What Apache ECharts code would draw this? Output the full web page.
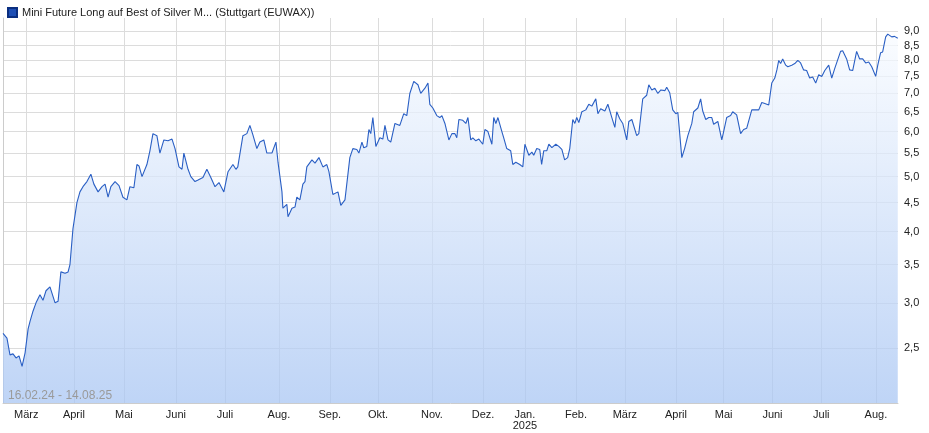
<!DOCTYPE html>
<html><head><meta charset="utf-8">
<script src="https://cdn.jsdelivr.net/npm/echarts@6/dist/echarts.min.js"></script>
<style>html,body{margin:0;padding:0;background:#fff}#c{width:929px;height:433px}</style>
</head><body><div id="c"></div>
<script>
// trading-day index since 16.02.24
const days = [0,1.7,3,4.3,5.6,6.9,8.2,9.5,10.8,11.6,12.9,14.2,15.9,17.2,18.5,20.2,22.4,23.7,24.9,26.7,28,28.8,30.1,31.8,33.1,34.4,36.1,37.8,39.1,40.9,42.6,43.9,45.2,46.4,48.2,49.9,51.6,53.3,54.6,56.3,57.6,58.5,59.8,61.9,63.2,64.5,66.2,67.5,69.2,71,72.7,74,75.7,77,77.8,79.6,80.8,82.6,83.9,86,87.7,89.4,91.2,92.9,95,96.8,98.9,100.2,101,103.2,104.9,106.2,107.5,109.2,110.5,112.2,113.5,115.7,117.4,118.3,120,120.4,122.1,122.6,124.3,125.6,126.4,127.7,129,129.9,130.7,132.9,134.2,135.9,137.6,139.3,140.2,141.9,144.1,145.3,147.1,149.2,150.5,152.2,153.1,154.4,155.2,156.5,157.4,158.2,159.1,160.4,162.1,163.4,164.3,165.6,166.8,168.6,169.4,170.7,172.4,173.7,175,176.7,178.5,179.7,181.5,182.8,183.6,184.9,186.6,187.9,188.8,190.1,190.9,191.8,193.1,194.4,195.2,196.1,197.8,199.1,200,201.2,202.1,203.4,204.7,206.4,207.3,208.6,210.3,211.1,212,212.9,214.6,215.4,216.7,218.4,219.3,220.6,222.3,223.6,224.5,226.2,227.5,228.3,229.6,230.9,231.7,232.6,233.9,234.8,236.1,236.9,237.8,239.1,240.4,241.6,242.9,243.8,245.1,246,246.8,247.7,249,250.7,252,253.3,255,255.9,257.1,258.9,260.2,261.9,263.2,264,265.3,266.6,268.3,269.2,270.5,272.6,273.5,275.2,276.9,277.8,279.1,280.4,281.7,283,284.7,285.5,286.8,288.1,289.4,290.3,292,293.2,294.6,296.3,297.1,298.9,300.1,301,302.3,303.6,304.9,305.7,307.5,309.2,310,311.3,313,313.9,315.6,317.3,318.6,319.9,322.1,323.8,325.1,326.4,327.7,329.4,330.7,332,332.9,333.7,334.5,335.4,336.7,337.6,339.3,340.6,341.9,343.1,344.4,345.7,347,348.3,349.6,350.9,352.2,353.5,355.2,356.5,357.8,358.6,360.3,361.2,362.9,364.2,365.5,367.2,368.5,369.8,371.1,372.4,373.7,375.4,376.3,377.5,378.4,379.7,380.6,382.3,383.5,384.9];
const values = [2.65,2.6,2.43,2.44,2.4,2.42,2.32,2.45,2.7,2.78,2.9,3.0,3.1,3.03,3.15,3.2,3.0,3.02,3.4,3.38,3.4,3.5,4.05,4.5,4.7,4.8,4.9,5.05,4.85,4.7,4.8,4.85,4.6,4.8,4.9,4.82,4.6,4.55,4.8,4.78,5.25,5.22,5.0,5.25,5.55,5.95,5.9,5.5,5.8,5.78,5.82,5.6,5.2,5.15,5.5,5.15,5.0,4.9,4.93,4.98,5.15,4.98,4.8,4.88,4.7,5.1,5.25,5.15,5.2,5.9,5.95,6.15,5.92,5.6,5.75,5.8,5.5,5.5,5.75,5.3,4.7,4.4,4.47,4.25,4.4,4.42,4.6,4.55,4.85,4.9,5.2,5.35,5.28,5.4,5.2,5.25,5.1,4.65,4.7,4.45,4.55,5.4,5.6,5.58,5.5,5.75,5.62,5.65,6.05,5.95,6.35,5.65,5.85,5.82,6.15,5.8,5.75,6.2,6.22,6.15,6.45,6.4,7.0,7.35,7.25,7.0,7.15,7.3,6.7,6.6,6.4,6.35,6.4,6.2,6.2,5.8,5.95,5.95,5.85,6.3,6.28,6.2,6.35,5.8,5.85,5.78,5.82,5.7,6.05,6.0,5.7,6.35,6.2,6.35,6.0,5.85,5.6,5.55,5.25,5.3,5.25,5.2,5.7,5.45,5.52,5.45,5.6,5.58,5.25,5.55,5.55,5.7,5.62,5.58,5.7,5.65,5.58,5.35,5.4,5.6,6.3,6.2,6.35,6.22,6.5,6.55,6.7,6.65,6.85,6.45,6.58,6.52,6.7,6.35,6.1,6.5,6.32,6.2,5.8,6.25,6.3,5.9,5.95,6.85,6.95,7.25,7.1,7.15,7.0,7.1,7.08,7.18,7.02,6.55,6.45,6.48,5.4,5.6,5.9,6.2,6.5,6.6,6.85,6.52,6.3,6.35,6.35,6.18,6.25,5.8,6.0,6.35,6.4,6.5,6.42,5.95,6.05,6.08,6.55,6.55,6.55,6.75,6.72,6.68,7.3,7.45,7.7,8.0,7.9,8.05,7.85,7.8,7.85,7.9,8.0,7.92,7.7,7.68,7.45,7.48,7.3,7.55,7.5,7.68,7.85,7.45,7.75,7.8,8.3,8.32,8.05,7.7,7.68,8.3,8.05,8.05,7.92,7.95,7.8,7.5,7.85,8.25,8.28,8.8,8.9,8.8,8.82,8.75];
const monthDays = [10,30.5,52,74.4,95.5,118.7,140.6,161.3,184.5,206.5,224.5,246.5,267.5,289.5,310,331,352,375.5];
const monthLabels = ['März','April','Mai','Juni','Juli','Aug.','Sep.','Okt.','Nov.','Dez.','Jan.\n2025','Feb.','März','April','Mai','Juni','Juli','Aug.'];
const yTicks = [2.5,3.0,3.5,4.0,4.5,5.0,5.5,6.0,6.5,7.0,7.5,8.0,8.5,9.0];
const title = 'Mini Future Long auf Best of Silver M... (Stuttgart (EUWAX))';
const range = '16.02.24 - 14.08.25';

const chart = echarts.init(document.getElementById('c'));
chart.setOption({
  animation:false,
  grid:{left:3,right:31,top:18,bottom:30},
  legend:{show:true,left:2,top:2,itemWidth:9,itemHeight:9,itemGap:4,icon:'rect',
    textStyle:{fontFamily:'Liberation Sans, Arial',fontSize:11,color:'#222'},data:[title]},
  graphic:[{type:'text',left:8,top:390,z:100,style:{text:range,fill:'#9a9a9a',font:'12px Liberation Sans, Arial'}}],
  xAxis:{type:'value',min:0,max:385,
    axisLine:{show:true,lineStyle:{color:'#ccc'}},axisTick:{show:false,customValues:monthDays},
    splitLine:{show:true,lineStyle:{color:'#dcdcdc',width:1}},
    axisLabel:{customValues:monthDays,color:'#222',fontSize:11,fontFamily:'Liberation Sans, Arial',margin:6,
      formatter:(v)=>{const i=monthDays.indexOf(v);return i>=0?monthLabels[i]:'';}}},
  yAxis:{type:'log',position:'right',min:2.0,max:9.5,logBase:10,
    axisLine:{show:true,lineStyle:{color:'#ccc'}},axisTick:{show:false,customValues:yTicks},
    splitLine:{show:true,lineStyle:{color:'#dcdcdc',width:1}},
    axisLabel:{customValues:yTicks,color:'#222',fontSize:11,fontFamily:'Liberation Sans, Arial',margin:6,
      formatter:(v)=>v.toFixed(1).replace('.',',')}},
  series:[{name:title,type:'line',data:days.map((d,i)=>[d,values[i]]),symbol:'none',
    lineStyle:{color:'#2a5fc4',width:1.1},itemStyle:{color:'#1d4fb5',borderColor:'#0b2f80',borderWidth:1},
    areaStyle:{origin:'start',opacity:0.75,color:new echarts.graphic.LinearGradient(0,0,0,1,[{offset:0,color:'#f8fbff'},{offset:1,color:'#a9c6f3'}])}}]
});
</script></body></html>
